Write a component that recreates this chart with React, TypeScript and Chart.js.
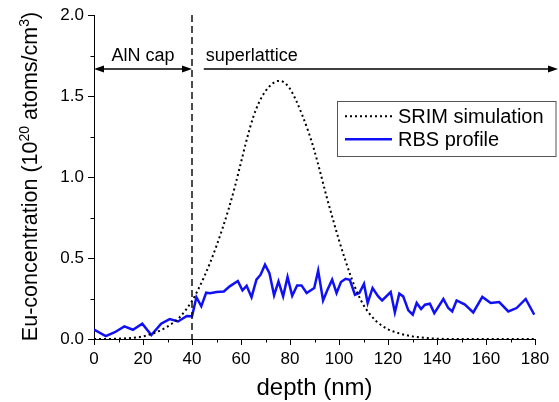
import { useEffect, useRef } from 'react';
import { Chart, registerables } from 'chart.js';

Chart.register(...registerables);

// RBS profile (depth nm, concentration 1e20 atoms/cm3)
const rbsDepth = [0, 4.8, 8.5, 12.4, 15.9, 19.7, 23.4, 27.4, 30.9, 34.3, 37.9, 40.0, 41.8, 43.8, 45.8, 47.4, 50.0, 53.0, 55.4, 58.7, 60.6, 62.3, 64.3, 66.3, 68.0, 69.8, 71.6, 73.5, 75.3, 77.2, 79.0, 80.9, 82.9, 84.7, 86.8, 89.9, 91.5, 93.5, 95.3, 97.2, 99.0, 100.8, 102.7, 104.4, 106.5, 108.3, 110.2, 111.7, 113.7, 116.0, 117.6, 121.1, 122.8, 124.6, 126.2, 128.3, 130.1, 131.7, 133.5, 135.1, 137.1, 138.9, 142.6, 144.6, 146.2, 148.0, 151.4, 154.8, 158.5, 161.9, 165.4, 169.1, 172.5, 176.2, 179.7];
const rbsConc = [0.058, 0.018, 0.042, 0.078, 0.057, 0.094, 0.024, 0.094, 0.123, 0.108, 0.142, 0.14, 0.258, 0.202, 0.286, 0.282, 0.29, 0.293, 0.325, 0.358, 0.30, 0.328, 0.258, 0.366, 0.397, 0.459, 0.407, 0.27, 0.356, 0.263, 0.383, 0.267, 0.331, 0.331, 0.284, 0.315, 0.423, 0.238, 0.304, 0.366, 0.284, 0.352, 0.372, 0.366, 0.273, 0.284, 0.34, 0.222, 0.315, 0.263, 0.238, 0.29, 0.164, 0.28, 0.263, 0.177, 0.15, 0.222, 0.185, 0.212, 0.218, 0.16, 0.247, 0.191, 0.17, 0.238, 0.212, 0.164, 0.26, 0.222, 0.228, 0.17, 0.191, 0.247, 0.15];

// SRIM simulation
const srimDepth = [0, 5, 10, 15, 20, 25, 30, 35, 40, 42.5, 45, 47.5, 50, 52.5, 55, 57.5, 60, 62.5, 65, 67.5, 70, 72.5, 75, 77.5, 80, 82.5, 85, 87.5, 90, 92.5, 95, 97.5, 100, 102.5, 105, 107.5, 110, 112.5, 115, 117.5, 120, 125, 130, 135, 140, 145, 150, 160, 170, 180];
const srimConc = [0, 0, 0.002, 0.006, 0.016, 0.04, 0.077, 0.135, 0.235, 0.305, 0.385, 0.475, 0.575, 0.685, 0.805, 0.94, 1.09, 1.24, 1.37, 1.465, 1.53, 1.572, 1.593, 1.585, 1.545, 1.472, 1.382, 1.28, 1.16, 1.02, 0.875, 0.74, 0.61, 0.49, 0.38, 0.285, 0.21, 0.155, 0.113, 0.083, 0.06, 0.033, 0.016, 0.007, 0.002, 0, 0, 0, 0, 0];

const xTicks = [0, 20, 40, 60, 80, 100, 120, 140, 160, 180];
const yTicks = [0.0, 0.5, 1.0, 1.5, 2.0];
const xMinorTicks = [10, 30, 50, 70, 90, 110, 130, 150, 170];
const yMinorTicks = [0.25, 0.75, 1.25, 1.75];

const capBoundary = 40;
const superlatticeStart = 44.8;
const arrowLevel = 1.667;
const capLabel = 'AlN cap';
const slLabel = 'superlattice';
const seriesLabels = ['SRIM simulation', 'RBS profile'];

const FONT = 'Arial, "Liberation Sans", Helvetica, sans-serif';

function arrowHead(ctx: CanvasRenderingContext2D, x: number, y: number, dir: number) {
  const len = 10;
  const hw = 3.5;
  ctx.beginPath();
  ctx.moveTo(x, y);
  ctx.lineTo(x - dir * len, y - hw);
  ctx.lineTo(x - dir * len, y + hw);
  ctx.closePath();
  ctx.fill();
}

const annotatePlugin = {
  id: 'annotate',
  afterDraw(chart: any) {
    const ctx: CanvasRenderingContext2D = chart.ctx;
    const xs = chart.scales.x;
    const ys = chart.scales.y;
    const area = chart.chartArea;
    ctx.save();

    // minor ticks
    ctx.strokeStyle = '#000';
    ctx.lineWidth = 1;
    ctx.beginPath();
    xMinorTicks.forEach((v) => {
      const px = Math.round(xs.getPixelForValue(v)) + 0.5;
      ctx.moveTo(px, area.bottom);
      ctx.lineTo(px, area.bottom + 3.5);
    });
    yMinorTicks.forEach((v) => {
      const py = Math.round(ys.getPixelForValue(v)) + 0.5;
      ctx.moveTo(area.left, py);
      ctx.lineTo(area.left - 3.5, py);
    });
    ctx.stroke();

    // dashed boundary
    const bx = xs.getPixelForValue(capBoundary);
    ctx.strokeStyle = '#111';
    ctx.lineWidth = 1.5;
    ctx.setLineDash([7, 4]);
    ctx.beginPath();
    ctx.moveTo(bx, area.top);
    ctx.lineTo(bx, area.bottom);
    ctx.stroke();
    ctx.setLineDash([]);

    // arrows
    const ay = ys.getPixelForValue(arrowLevel);
    const x0 = xs.getPixelForValue(0);
    ctx.fillStyle = '#000';
    ctx.strokeStyle = '#000';
    ctx.lineWidth = 1.5;
    ctx.beginPath();
    ctx.moveTo(x0 + 4, ay);
    ctx.lineTo(bx - 4, ay);
    ctx.stroke();
    arrowHead(ctx, x0, ay, -1);
    arrowHead(ctx, bx, ay, 1);
    const sx = xs.getPixelForValue(superlatticeStart);
    const ex = chart.width - 1;
    ctx.beginPath();
    ctx.moveTo(sx, ay);
    ctx.lineTo(ex - 4, ay);
    ctx.stroke();
    arrowHead(ctx, ex, ay, 1);

    ctx.font = `18px ${FONT}`;
    ctx.textBaseline = 'alphabetic';
    ctx.textAlign = 'center';
    ctx.fillText(capLabel, (x0 + bx) / 2, ay - 8);
    ctx.textAlign = 'left';
    ctx.fillText(slLabel, sx + 2, ay - 8);

    // legend
    const lx = area.right - 198;
    const ly = ys.getPixelForValue(1.47);
    const lw = 218.5;
    const lh = 55;
    ctx.strokeStyle = '#555';
    ctx.lineWidth = 1;
    ctx.strokeRect(Math.round(lx) + 0.5, Math.round(ly) + 0.5, lw, lh);
    const ds = chart.data.datasets;
    const rows = [ly + 15.5, ly + 38.5];
    rows.forEach((ry, i) => {
      const d = ds[i];
      ctx.strokeStyle = d.borderColor;
      ctx.lineWidth = d.borderWidth;
      ctx.setLineDash(d.borderDash || []);
      ctx.beginPath();
      ctx.moveTo(lx + 8, ry);
      ctx.lineTo(lx + 55, ry);
      ctx.stroke();
      ctx.setLineDash([]);
      ctx.fillStyle = '#000';
      ctx.font = `20px ${FONT}`;
      ctx.textBaseline = 'middle';
      ctx.textAlign = 'left';
      ctx.fillText(d.label, lx + 61, ry + 1);
    });

    // x title
    ctx.fillStyle = '#000';
    ctx.font = `24px ${FONT}`;
    ctx.textAlign = 'center';
    ctx.textBaseline = 'alphabetic';
    ctx.fillText('depth (nm)', (area.left + area.right) / 2, 395);

    // y title with superscripts
    const parts: [string, boolean][] = [
      ['Eu-concentration (10', false],
      ['20', true],
      [' atoms/cm', false],
      ['3', true],
      [')', false],
    ];
    const mainFont = `21.5px ${FONT}`;
    const supFont = `14px ${FONT}`;
    let total = 0;
    parts.forEach(([t, s]) => {
      ctx.font = s ? supFont : mainFont;
      total += ctx.measureText(t).width;
    });
    ctx.translate(37, 176.5);
    ctx.rotate(-Math.PI / 2);
    ctx.textAlign = 'left';
    ctx.textBaseline = 'alphabetic';
    let cx = -total / 2;
    parts.forEach(([t, s]) => {
      ctx.font = s ? supFont : mainFont;
      ctx.fillText(t, cx, s ? -8.5 : 0);
      cx += ctx.measureText(t).width;
    });
    ctx.restore();
  },
};

export default function App() {
  const ref = useRef<HTMLCanvasElement>(null);
  useEffect(() => {
    if (!ref.current) return;
    const chart = new Chart(ref.current, {
      type: 'line',
      data: {
        datasets: [
          {
            label: seriesLabels[0],
            data: srimDepth.map((x, i) => ({ x, y: srimConc[i] })),
            borderColor: '#000',
            borderWidth: 2,
            borderDash: [2, 3],
            pointRadius: 0,
            cubicInterpolationMode: 'monotone',
            fill: false,
          },
          {
            label: seriesLabels[1],
            data: rbsDepth.map((x, i) => ({ x, y: rbsConc[i] })),
            borderColor: '#1010f5',
            borderWidth: 2.5,
            pointRadius: 0,
            tension: 0,
            fill: false,
          },
        ],
      },
      options: {
        animation: false,
        responsive: false,
        devicePixelRatio: 1,
        layout: { padding: { left: 0, top: 15, right: 24, bottom: 0 } },
        plugins: { legend: { display: false }, tooltip: { enabled: false } },
        scales: {
          x: {
            type: 'linear',
            min: 0,
            max: 180,
            afterFit: (s: any) => { s.height = 63; },
            afterBuildTicks: (s: any) => { s.ticks = xTicks.map((v) => ({ value: v })); },
            ticks: { color: '#000', font: { size: 17, family: FONT }, padding: 4, maxRotation: 0, callback: (v: any) => String(v) },
            grid: { drawOnChartArea: false, drawTicks: true, tickLength: 6, color: '#000' },
            border: { display: true, color: '#000', width: 1 },
          },
          y: {
            type: 'linear',
            min: 0,
            max: 2,
            afterFit: (s: any) => { s.width = 94; },
            afterBuildTicks: (s: any) => { s.ticks = yTicks.map((v) => ({ value: v })); },
            ticks: { color: '#000', font: { size: 17, family: FONT }, padding: 4, callback: (v: any) => Number(v).toFixed(1) },
            grid: { drawOnChartArea: false, drawTicks: true, tickLength: 6, color: '#000' },
            border: { display: true, color: '#000', width: 1 },
          },
        },
      },
      plugins: [annotatePlugin],
    });
    return () => chart.destroy();
  }, []);
  return (
    <div style={{ position: 'fixed', left: 0, top: 0, width: 559, height: 402, background: '#fff' }}>
      <canvas ref={ref} width={559} height={402} style={{ display: 'block' }} />
    </div>
  );
}
